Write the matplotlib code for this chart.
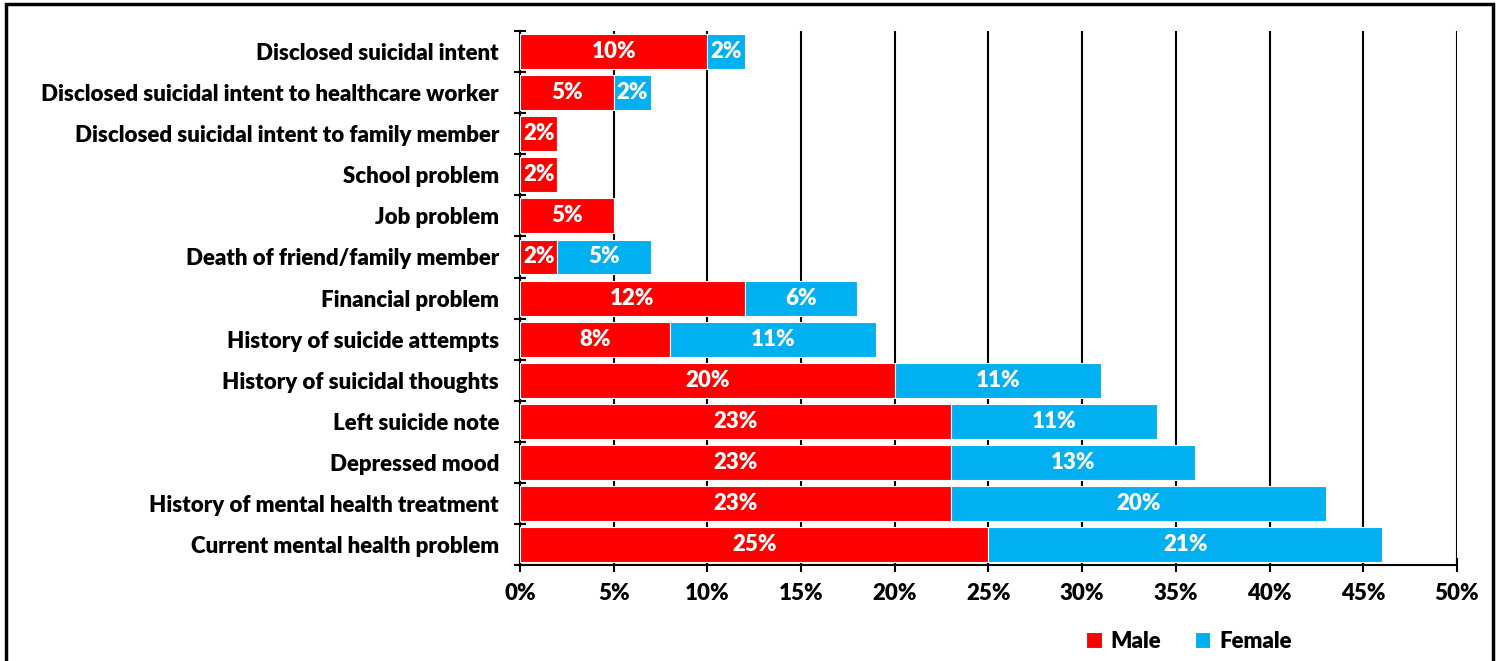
import matplotlib.pyplot as plt
from matplotlib.patches import Rectangle
from matplotlib.ticker import FuncFormatter, MultipleLocator

categories = [
    "Disclosed suicidal intent",
    "Disclosed suicidal intent to healthcare worker",
    "Disclosed suicidal intent to family member",
    "School problem",
    "Job problem",
    "Death of friend/family member",
    "Financial problem",
    "History of suicide attempts",
    "History of suicidal thoughts",
    "Left suicide note",
    "Depressed mood",
    "History of mental health treatment",
    "Current mental health problem",
]
male = [10, 5, 2, 2, 5, 2, 12, 8, 20, 23, 23, 23, 25]
female = [2, 2, 0, 0, 0, 5, 6, 11, 11, 11, 13, 20, 21]

RED = "#FF0000"
BLUE = "#00B0F0"
WEIGHT = "heavy"

plt.rcParams["font.family"] = ["Lato", "DejaVu Sans"]
plt.rcParams["font.weight"] = WEIGHT

fig = plt.figure(figsize=(15.01, 6.61), dpi=100)
ax = fig.add_axes([0.3464, 0.1452, 0.9707 - 0.3464, 0.953 - 0.1452])

y = list(range(len(categories)))
bh = 0.85
ax.barh(y, male, height=bh, color=RED, edgecolor="white", linewidth=0.8, label="Male", zorder=3)
ax.barh(y, female, left=male, height=bh, color=BLUE, edgecolor="white", linewidth=0.8,
        label="Female", zorder=3)

for i, (m, f) in enumerate(zip(male, female)):
    if m > 0:
        ax.text(m / 2, i, f"{m}%", ha="center", va="center", color="white",
                fontsize=16, fontweight=WEIGHT, zorder=4)
    if f > 0:
        ax.text(m + f / 2, i, f"{f}%", ha="center", va="center", color="white",
                fontsize=16, fontweight=WEIGHT, zorder=4)

ax.set_xlim(0, 50)
ax.set_ylim(len(categories) - 0.5, -0.5)
ax.xaxis.set_major_locator(MultipleLocator(5))
ax.xaxis.set_major_formatter(FuncFormatter(lambda v, _: f"{v:.0f}%"))
ax.grid(axis="x", color="black", linewidth=1.5, zorder=0)

ax.set_yticks(y)
ax.set_yticklabels(categories)
ax.set_yticks([i - 0.5 for i in range(len(categories) + 1)], minor=True)
ax.tick_params(axis="y", which="major", length=0, pad=15, labelsize=16)
ax.tick_params(axis="y", which="minor", length=8, width=1.5, direction="inout")
ax.tick_params(axis="x", length=10, width=1.5, direction="inout", labelsize=16, pad=8)
for lbl in ax.get_xticklabels() + ax.get_yticklabels():
    lbl.set_fontweight(WEIGHT)

for side in ["top", "right"]:
    ax.spines[side].set_visible(False)
for side in ["left", "bottom"]:
    ax.spines[side].set_linewidth(1.5)

leg = fig.legend(loc="center", bbox_to_anchor=(0.792, 0.03), ncol=2, frameon=False,
                 fontsize=16, handlelength=0.7, handleheight=0.7, handletextpad=0.4,
                 columnspacing=1.5)
for t in leg.get_texts():
    t.set_fontweight(WEIGHT)

fig.patches.append(Rectangle((0.004, -0.05), 0.991, 1.044, transform=fig.transFigure,
                             fill=False, edgecolor="black", linewidth=2.5))

fig.savefig("out.png", dpi=100)
